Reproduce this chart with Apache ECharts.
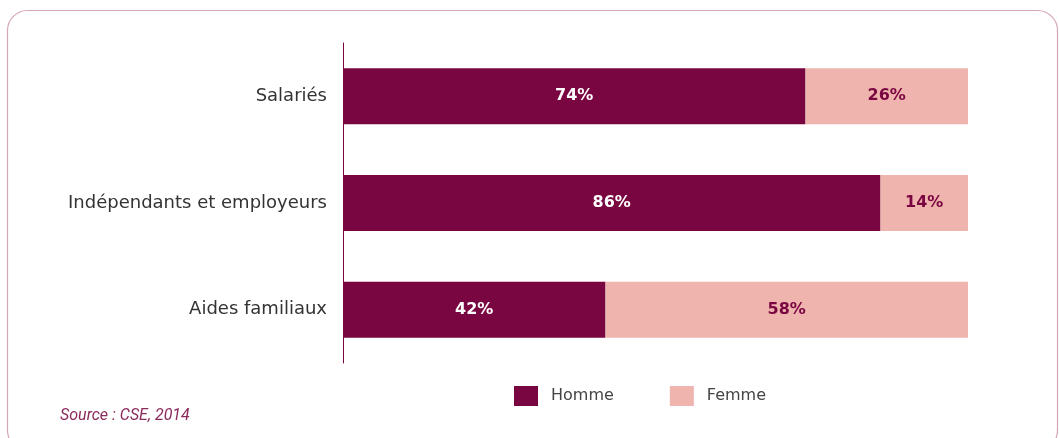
<!DOCTYPE html>
<html>
<head>
<meta charset="utf-8">
<style>
  html, body { margin: 0; padding: 0; background: #ffffff; }
  #chart { width: 1059px; height: 438px; }
</style>
<script src="https://cdn.jsdelivr.net/npm/echarts@6/dist/echarts.min.js"></script>
</head>
<body>
<div id="chart"></div>
<script>
// Répartition par sexe selon le statut dans l'emploi (en %)
const categories = ['Salariés', 'Indépendants et employeurs', 'Aides familiaux'];
const homme = [74, 86, 42];
const femme = [26, 14, 58];
const seriesNames = ['Homme', 'Femme'];
const sourceText = 'Source : CSE, 2014';

const DARK = '#7a0641';
const LIGHT = '#eeb4ad';
const FONT = '"DejaVu Sans", Roboto, sans-serif';

const chart = echarts.init(document.getElementById('chart'));

chart.setOption({
  animation: false,
  backgroundColor: '#ffffff',
  graphic: [
    {
      type: 'rect',
      shape: { x: 7.5, y: 10.5, width: 1050, height: 440, r: 20 },
      style: { fill: 'none', stroke: '#d4a6b8', lineWidth: 1.2 },
      silent: true
    },
    {
      type: 'text',
      left: 60,
      top: 408,
      style: {
        text: sourceText,
        fill: '#8b2a5c',
        font: 'italic 16px Roboto, "DejaVu Sans", sans-serif'
      }
    }
  ],
  legend: {
    data: seriesNames,
    left: 514,
    top: 386,
    padding: 0,
    itemWidth: 24,
    itemHeight: 20,
    itemGap: 56,
    icon: 'rect',
    textStyle: {
      color: '#444',
      fontSize: 16,
      fontFamily: FONT,
      padding: [0, 0, 0, 8]
    }
  },
  grid: {
    left: 343,
    right: 91,
    top: 43,
    bottom: 75,
    containLabel: false
  },
  xAxis: {
    type: 'value',
    min: 0,
    max: 100,
    show: false
  },
  yAxis: {
    type: 'category',
    data: categories,
    inverse: true,
    axisLine: { show: true, lineStyle: { color: DARK, width: 1 } },
    axisTick: { show: false },
    axisLabel: {
      color: '#333',
      fontSize: 18,
      fontFamily: FONT,
      margin: 16
    },
    splitLine: { show: false }
  },
  series: [
    {
      name: seriesNames[0],
      type: 'bar',
      stack: 'total',
      data: homme,
      barWidth: 56,
      itemStyle: { color: DARK },
      label: {
        show: true,
        position: 'inside',
        formatter: '{c}%',
        color: '#ffffff',
        fontSize: 16,
        fontWeight: 'bold',
        fontFamily: FONT
      }
    },
    {
      name: seriesNames[1],
      type: 'bar',
      stack: 'total',
      data: femme,
      barWidth: 56,
      itemStyle: { color: LIGHT },
      label: {
        show: true,
        position: 'inside',
        formatter: '{c}%',
        color: DARK,
        fontSize: 16,
        fontWeight: 'bold',
        fontFamily: FONT
      }
    }
  ]
});
</script>
</body>
</html>
